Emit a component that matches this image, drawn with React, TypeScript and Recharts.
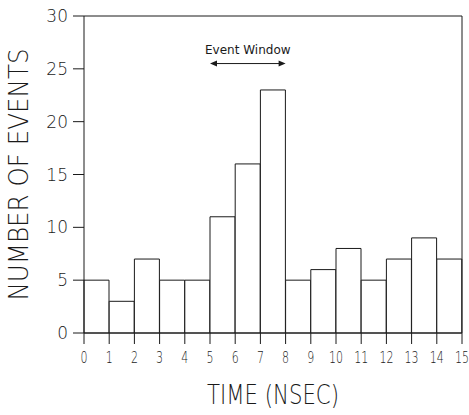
import React from "react";
import {
  ComposedChart,
  Bar,
  XAxis,
  YAxis,
  ReferenceLine,
  Label,
} from "recharts";

const binStarts = [0, 1, 2, 3, 4, 5, 6, 7, 8, 9, 10, 11, 12, 13, 14];
const binWidth = 1;
const counts = [5, 3, 7, 5, 5, 11, 16, 23, 5, 6, 8, 5, 7, 9, 7];
const xTicks = [0, 1, 2, 3, 4, 5, 6, 7, 8, 9, 10, 11, 12, 13, 14, 15];
const yTicks = [0, 5, 10, 15, 20, 25, 30];
const eventWindow = { start: 5, end: 8, level: 25.5, label: "Event Window" };
const xTitle = "TIME (NSEC)";
const yTitle = "NUMBER OF EVENTS";

const data = binStarts.map((s, i) => ({
  bin: String(s),
  end: s + binWidth,
  count: counts[i],
}));

const FONT = "'DejaVu Sans', 'Liberation Sans', sans-serif";
const INK = "#1a1a1a";

const ArrowShape = (props: any) => {
  const { x1, y1, x2, y2 } = props;
  if (x1 == null) return null;
  const h = 7;
  const w = 3;
  return (
    <g>
      <line x1={x1 + 4} y1={y1} x2={x2 - 4} y2={y2} stroke={INK} strokeWidth={1} />
      <polygon points={`${x1},${y1} ${x1 + h},${y1 - w} ${x1 + h},${y1 + w}`} fill={INK} />
      <polygon points={`${x2},${y2} ${x2 - h},${y2 - w} ${x2 - h},${y2 + w}`} fill={INK} />
    </g>
  );
};

const XTick = (props: any) => {
  const { x, y, payload } = props;
  const s = String(payload.value);
  return (
    <text
      x={x}
      y={y + 13}
      textAnchor="middle"
      fontFamily={FONT}
      fontSize={16}
      fontWeight={200}
      fill={INK}
      textLength={s.length * 7}
      lengthAdjust="spacingAndGlyphs"
    >
      {s}
    </text>
  );
};

const YTitle = (props: any) => {
  const vb = props.viewBox || {};
  const cy = vb.y + vb.height / 2;
  const cx = 19;
  return (
    <text
      x={cx}
      y={cy}
      transform={`rotate(-90, ${cx}, ${cy})`}
      textAnchor="middle"
      dominantBaseline="central"
      fontFamily={FONT}
      fontSize={26}
      fontWeight={200}
      fill={INK}
      textLength={252}
      lengthAdjust="spacingAndGlyphs"
    >
      {yTitle}
    </text>
  );
};

const XTitle = (props: any) => {
  const vb = props.viewBox || {};
  const cx = vb.x + vb.width / 2;
  return (
    <text
      x={cx}
      y={404}
      textAnchor="middle"
      fontFamily={FONT}
      fontSize={27}
      fontWeight={200}
      fill={INK}
      textLength={132}
      lengthAdjust="spacingAndGlyphs"
    >
      {xTitle}
    </text>
  );
};

export default function App() {
  return (
    <div style={{ position: "absolute", left: 0, top: 0, background: "#fff" }}>
      <ComposedChart
        width={469}
        height={415}
        data={data}
        margin={{ top: 16, right: 7, bottom: 0, left: 0 }}
        barCategoryGap={0}
        barGap={0}
      >
        <XAxis
          xAxisId="num"
          dataKey="end"
          type="number"
          domain={[0, 15]}
          ticks={xTicks}
          interval={0}
          allowDataOverflow
          height={82}
          tickSize={11}
          tickMargin={6}
          axisLine={{ stroke: INK }}
          tickLine={{ stroke: INK }}
          tick={<XTick />}
        >
          <Label content={<XTitle />} />
        </XAxis>
        <XAxis xAxisId="cat" dataKey="bin" type="category" hide height={0} />
        <YAxis
          type="number"
          domain={[0, 30]}
          ticks={yTicks}
          interval={0}
          width={84}
          tickSize={11}
          tickMargin={5}
          axisLine={{ stroke: INK }}
          tickLine={{ stroke: INK }}
          tick={{ fill: INK, fontSize: 17, fontFamily: FONT, fontWeight: 200 }}
        >
          <Label content={<YTitle />} />
        </YAxis>
        <Bar
          xAxisId="cat"
          dataKey="count"
          fill="#fff"
          stroke={INK}
          strokeWidth={1}
          isAnimationActive={false}
        />
        <ReferenceLine xAxisId="num" y={30} stroke={INK} />
        <ReferenceLine xAxisId="num" x={15} stroke={INK} />
        <ReferenceLine
          xAxisId="num"
          segment={[
            { x: eventWindow.start, y: eventWindow.level },
            { x: eventWindow.end, y: eventWindow.level },
          ]}
          shape={<ArrowShape />}
          label={{
            value: eventWindow.label,
            position: "top",
            offset: 10,
            fontSize: 12,
            fontFamily: FONT,
            fill: INK,
          }}
        />
      </ComposedChart>
    </div>
  );
}
